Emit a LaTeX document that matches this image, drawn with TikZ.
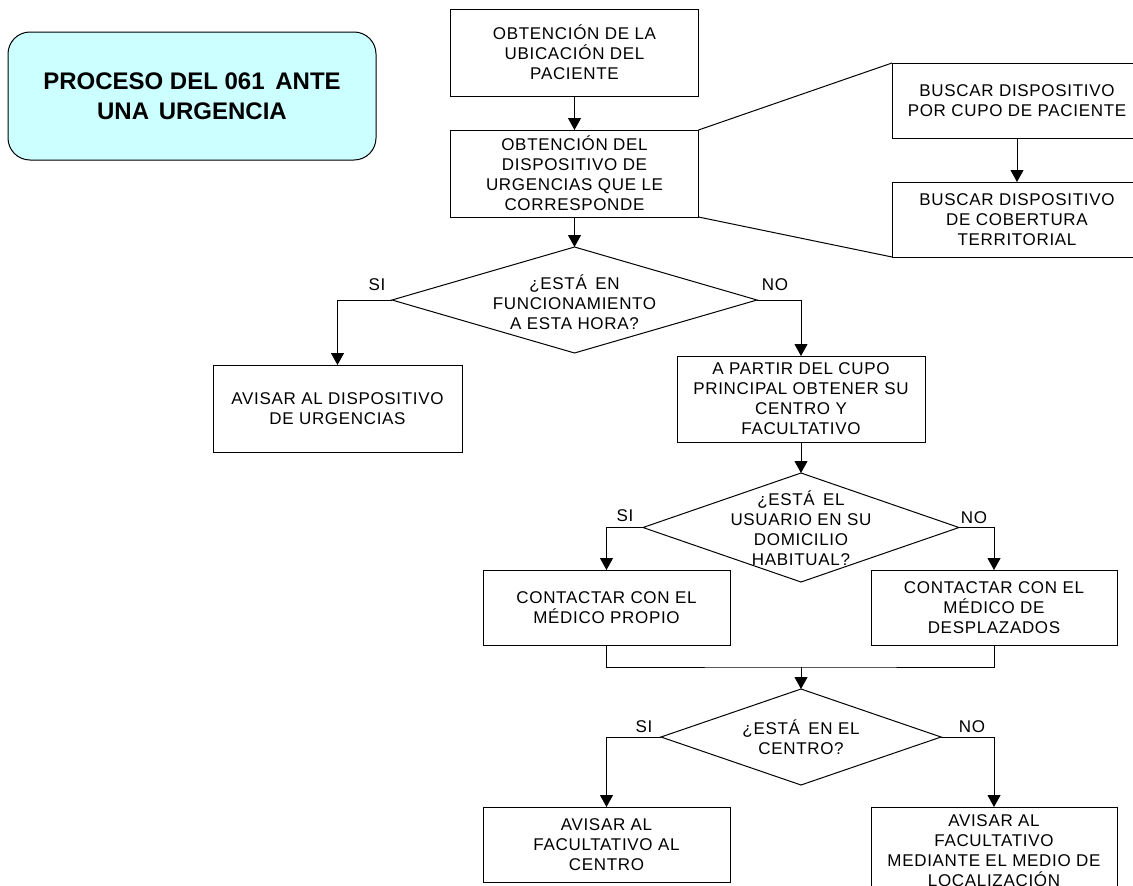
\documentclass[tikz,border=0pt]{standalone}
\usepackage{fontspec}
\setmainfont{Liberation Sans}[LetterSpace=4]
\newfontfamily\headingfont{Liberation Sans}
\usetikzlibrary{shapes.geometric,arrows.meta}
\definecolor{titlefill}{HTML}{CCFFFF}
\begin{document}
\begin{tikzpicture}[x=1pt,y=-1pt,
  every node/.style={inner sep=0pt, outer sep=0pt, align=center,
    font=\fontsize{17}{20}\selectfont},
  box/.style={draw, line width=1pt, rectangle},
  decision/.style={draw, line width=1pt, diamond},
  titlebox/.style={draw, line width=1pt, rectangle, rounded corners=22pt,
    fill=titlefill, font=\headingfont\fontsize{24}{30}\selectfont\bfseries},
  flow/.style={line width=1pt, -{Triangle[width=13pt,length=12pt]}},
  link/.style={line width=1pt},
  answer/.style={font=\fontsize{17}{20}\selectfont}
]
\path[use as bounding box, clip] (0,0) rectangle (1133,886);

% title
\node[titlebox, minimum width=368pt, minimum height=128pt] (title) at (192,96)
  {PROCESO DEL 061\hspace{4pt} ANTE\\UNA\hspace{3pt} URGENCIA};

% upper chain
\node[box, minimum width=248pt, minimum height=87pt] (b1) at (574.5,52.5)
  {OBTENCIÓN DE LA\\UBICACIÓN DEL\\PACIENTE};
\node[box, minimum width=248pt, minimum height=87pt] (b2) at (574.5,173.5)
  {\fontsize{17}{19}\selectfont OBTENCIÓN DEL\\DISPOSITIVO DE\\URGENCIAS QUE LE\\CORRESPONDE};
\node[box, minimum width=250pt, minimum height=75pt] (b3) at (1017,100.5)
  {BUSCAR DISPOSITIVO\\POR CUPO DE PACIENTE};
\node[box, minimum width=250pt, minimum height=75pt] (b4) at (1017,219.5)
  {BUSCAR DISPOSITIVO\\DE COBERTURA\\TERRITORIAL};

% first decision
\node[decision, minimum width=365pt, minimum height=106pt] (d1) at (574.5,300) {};
\node (d1t) at (574.5,302) {¿ESTÁ\hspace{3pt} EN\\FUNCIONAMIENTO\\A ESTA HORA?};
\node[answer] (s1) at (377,285) {SI};
\node[answer] (n1) at (775,285) {NO};

\node[box, minimum width=249pt, minimum height=87pt] (u1) at (337.5,408.5)
  {AVISAR AL DISPOSITIVO\\DE URGENCIAS};
\node[box, minimum width=248pt, minimum height=86pt] (p1) at (801,399)
  {\fontsize{17}{19.5}\selectfont A PARTIR DEL CUPO\\PRINCIPAL OBTENER SU\\CENTRO Y\\FACULTATIVO};

% second decision
\node[decision, minimum width=316pt, minimum height=109pt] (d2) at (801,527.5) {};
\node (d2t) at (801,528) {\fontsize{17}{20.5}\selectfont ¿ESTÁ\hspace{3pt} EL\\USUARIO EN SU\\DOMICILIO\\HABITUAL?};
\node[answer] (s2) at (625,516) {SI};
\node[answer] (n2) at (974,518) {NO};

\node[box, minimum width=247pt, minimum height=75pt] (c1) at (606.5,607.5)
  {CONTACTAR CON EL\\MÉDICO PROPIO};
\node[box, minimum width=246pt, minimum height=75pt] (c2) at (994,607.5)
  {CONTACTAR CON EL\\MÉDICO DE\\DESPLAZADOS};

% third decision
\node[decision, minimum width=280pt, minimum height=96pt] (d3) at (801,737) {};
\node (d3t) at (801,737) {¿ESTÁ\hspace{3pt} EN EL\\CENTRO?};
\node[answer] (s3) at (644,727) {SI};
\node[answer] (n3) at (972,727) {NO};

\node[box, minimum width=247pt, minimum height=75pt] (a1) at (606.5,844.5)
  {AVISAR AL\\FACULTATIVO AL\\CENTRO};
\node[box, minimum width=246pt, minimum height=88pt] (a2) at (994,851)
  {\fontsize{17}{19.5}\selectfont AVISAR AL\\FACULTATIVO\\MEDIANTE EL MEDIO DE\\LOCALIZACIÓN};

% connectors
\draw[flow] (b1.south) -- (b2.north);
\draw[link] (b2.north east) -- (b3.north west);
\draw[link] (b2.south east) -- (b4.south west);
\draw[flow] (b3.south) -- (b4.north);
\draw[flow] (b2.south) -- (d1.north);
\draw[flow] (d1.west) -| (u1.north);
\draw[flow] (d1.east) -| (p1.north);
\draw[flow] (p1.south) -- (d2.north);
\draw[flow] (d2.west) -| (c1.north);
\draw[flow] (d2.east) -| (c2.north);
\coordinate (join) at (801,667);
\draw[link] (c1.south) |- (join) -| (c2.south);
\draw[flow] (join) -- (d3.north);
\draw[flow] (d3.west) -| (a1.north);
\draw[flow] (d3.east) -| (a2.north);
\end{tikzpicture}
\end{document}
